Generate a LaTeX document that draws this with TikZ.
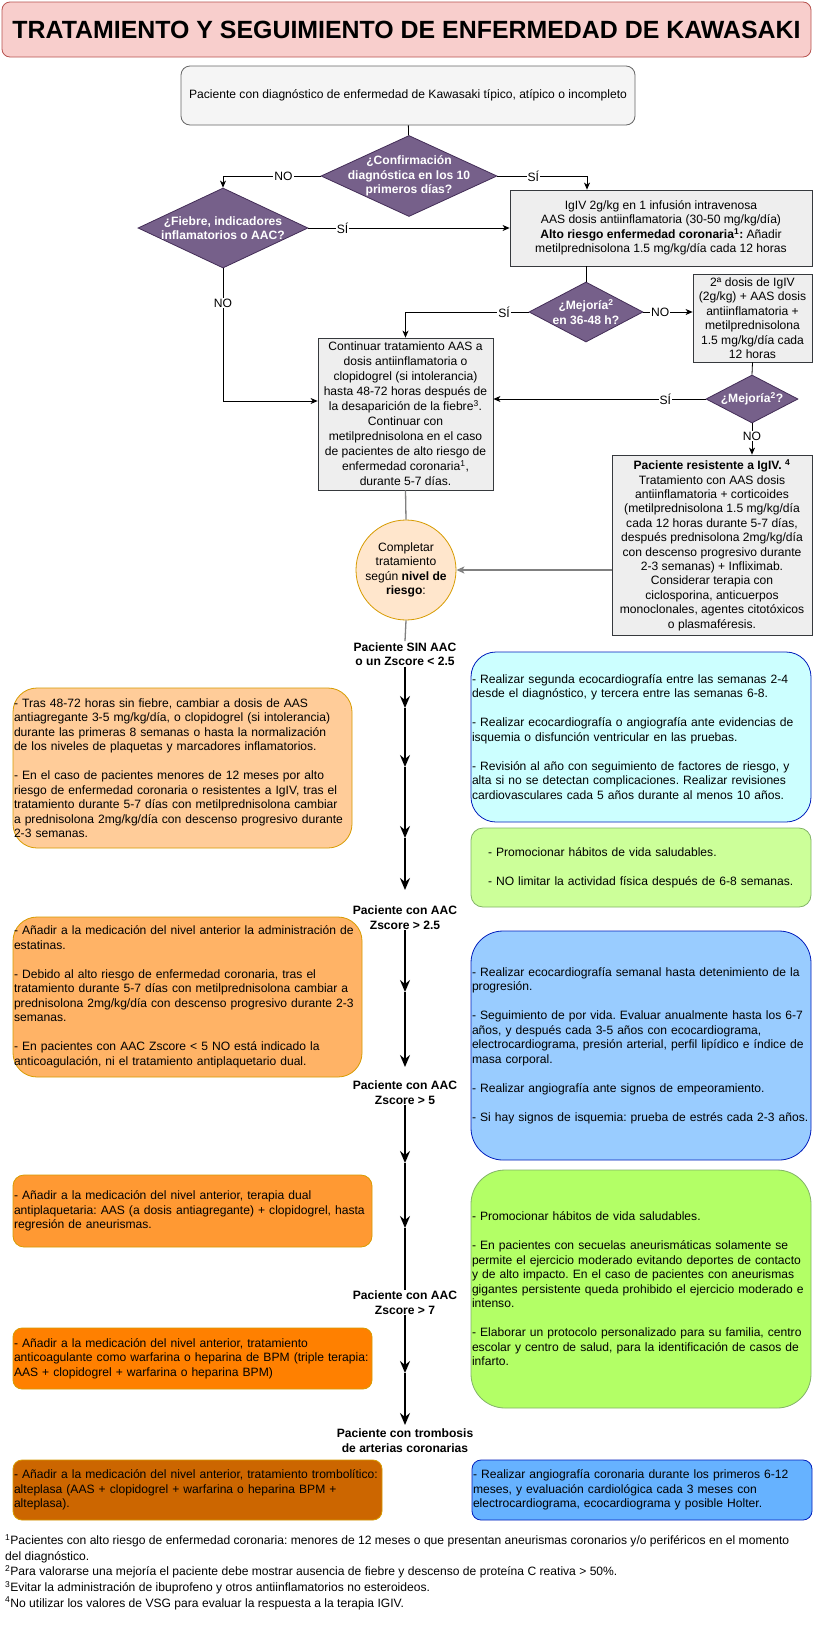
\documentclass[tikz,border=0pt]{standalone}
\usepackage{fontspec}
\setmainfont{Liberation Sans}
\usetikzlibrary{shapes.geometric}
\usetikzlibrary{arrows.meta}

\definecolor{tituloRojo}{HTML}{F8CECC}
\definecolor{tituloBorde}{HTML}{B85450}
\definecolor{grisFondo}{HTML}{F5F5F5}
\definecolor{grisBorde}{HTML}{666666}
\definecolor{cajaGris}{HTML}{EEEEEE}
\definecolor{cajaBorde}{HTML}{36393D}
\definecolor{morado}{HTML}{76608A}
\definecolor{moradoBorde}{HTML}{432D57}
\definecolor{crema}{HTML}{FFE6CC}
\definecolor{ocre}{HTML}{D79B00}
\definecolor{naranja1}{HTML}{FFCC99}
\definecolor{naranja2}{HTML}{FFB366}
\definecolor{naranja3}{HTML}{FF9933}
\definecolor{naranja4}{HTML}{FF8000}
\definecolor{naranja5}{HTML}{CC6600}
\definecolor{azul1}{HTML}{CCFFFF}
\definecolor{azul2}{HTML}{99CCFF}
\definecolor{azul3}{HTML}{66B2FF}
\definecolor{azulBorde}{HTML}{001DBC}
\definecolor{verde1}{HTML}{CCFF99}
\definecolor{verde2}{HTML}{B3FF66}
\definecolor{verdeBorde}{HTML}{82B366}

\frenchspacing

\begin{document}
\begin{tikzpicture}[x=1pt, y=-1pt]

  \tikzstyle{texto}=[font=\fontsize{12.1}{14.5}\selectfont]
  \tikzstyle{titulo}=[rectangle, rounded corners=8pt, draw=tituloBorde, fill=tituloRojo, line width=0.8pt, minimum width=809pt, minimum height=55pt, font=\fontsize{24.9}{28}\selectfont\bfseries]
  \tikzstyle{inicio}=[rectangle, rounded corners=9pt, draw=grisBorde, fill=grisFondo, line width=0.8pt, texto]
  \tikzstyle{proceso}=[rectangle, draw=cajaBorde, fill=cajaGris, line width=0.8pt, inner sep=1pt, align=center, texto]
  \tikzstyle{decision}=[diamond, draw=moradoBorde, fill=morado, line width=0.8pt, inner sep=0pt]
  \tikzstyle{pregunta}=[text=white, align=center, font=\fontsize{12.1}{14.5}\selectfont\bfseries]
  \tikzstyle{nivel}=[circle, draw=ocre, fill=crema, line width=0.8pt, minimum size=100pt, inner sep=0pt]
  \tikzstyle{nota}=[rectangle, line width=0.8pt, inner xsep=1pt, inner ysep=0pt, align=left, texto]
  \tikzstyle{grado}=[align=center, inner sep=1pt, font=\fontsize{12.1}{14.5}\selectfont\bfseries]
  \tikzstyle{connect}=[-{Stealth[length=7pt, width=6pt, inset=2pt]}, line width=0.8pt]
  \tikzstyle{linea}=[line width=0.8pt]
  \tikzstyle{gris}=[line width=1.3pt, draw=gray]
  \tikzstyle{eje}=[-{Stealth[length=12pt, width=10pt, inset=4pt]}, line width=2pt]
  \tikzstyle{etiqueta}=[fill=white, inner sep=1pt, texto]

  \fill[white] (0,0) rectangle (814,1628);
  \useasboundingbox (0,0) rectangle (814,1628);

  \node[titulo] (cabecera) at (406.5,29.5) {TRATAMIENTO Y SEGUIMIENTO DE ENFERMEDAD DE KAWASAKI};
  \node[inicio, minimum width=454pt, minimum height=59pt] (diagnostico) at (408,95.5) {Paciente con diagnóstico de enfermedad de Kawasaki típico, atípico o incompleto};

  \node[decision, minimum width=176pt, minimum height=81pt, label={[pregunta]center:{¿Confirmación\\diagnóstica en los 10\\primeros días?}}] (confirmacion) at (409,176) {};
  \node[decision, minimum width=170pt, minimum height=80pt, label={[pregunta]center:{¿Fiebre, indicadores\\inflamatorios o AAC?}}] (fiebre) at (223,228) {};
  \node[proceso, minimum width=302pt, minimum height=76pt] (igiv) at (661,228) {IgIV 2g/kg en 1 infusión intravenosa\\AAS dosis antiinflamatoria (30-50 mg/kg/día)\\\textbf{Alto riesgo enfermedad coronaria\textsuperscript{1}:} Añadir\\metilprednisolona 1.5 mg/kg/día cada 12 horas};
  \node[decision, minimum width=114pt, minimum height=60pt, label={[pregunta]center:{¿Mejoría\textsuperscript{2}\\en 36-48 h?}}] (mejoria) at (586,312) {};
  \node[proceso, minimum width=119pt, minimum height=88pt] (segunda) at (752.5,318) {2ª dosis de IgIV\\(2g/kg) + AAS dosis\\antiinflamatoria +\\metilprednisolona\\1.5 mg/kg/día cada\\12 horas};
  \node[decision, minimum width=92pt, minimum height=48pt, label={[pregunta]center:{¿Mejoría\textsuperscript{2}?}}] (mejoria2) at (752,399) {};
  \node[proceso, minimum width=175pt, minimum height=152pt, inner ysep=0pt, font=\fontsize{12.1}{15}\selectfont] (continuar) at (405.5,414) {Continuar tratamiento AAS a\\dosis antiinflamatoria o\\clopidogrel (si intolerancia)\\hasta 48-72 horas después de\\la desaparición de la fiebre\textsuperscript{3}.\\Continuar con\\metilprednisolona en el caso\\de pacientes de alto riesgo de\\enfermedad coronaria\textsuperscript{1},\\durante 5-7 días.};
  \node[proceso, minimum width=200pt, minimum height=180pt, inner ysep=0pt, font=\fontsize{12.1}{14.4}\selectfont] (resistente) at (712,545) {\textbf{Paciente resistente a IgIV. \textsuperscript{4}}\\Tratamiento con AAS dosis\\antiinflamatoria + corticoides\\(metilprednisolona 1.5 mg/kg/día\\cada 12 horas durante 5-7 días,\\después prednisolona 2mg/kg/día\\con descenso progresivo durante\\2-3 semanas) + Infliximab.\\Considerar terapia con\\ciclosporina, anticuerpos\\monoclonales, agentes citotóxicos\\o plasmaféresis.};
  \node[nivel, label={[align=center, texto]center:{Completar\\tratamiento\\según \textbf{nivel de}\\\textbf{riesgo}:}}] (completar) at (406,570) {};

  \node[grado] (sinAAC) at (405,654) {Paciente SIN AAC\\o un Zscore < 2.5};
  \node[grado] (aac25) at (405,917.5) {Paciente con AAC\\Zscore > 2.5};
  \node[grado] (aac5) at (405,1092.5) {Paciente con AAC\\Zscore > 5};
  \node[grado] (aac7) at (405,1302.5) {Paciente con AAC\\Zscore > 7};
  \node[grado] (trombosis) at (405,1440.5) {Paciente con trombosis\\de arterias coronarias};

  \node[nota, fill=naranja1, draw=ocre, rounded corners=24pt, text width=337pt, minimum height=160pt] (tratSin) at (182.5,768) {- Tras 48-72 horas sin fiebre, cambiar a dosis de AAS\\antiagregante 3-5 mg/kg/día, o clopidogrel (si intolerancia)\\durante las primeras 8 semanas o hasta la normalización\\de los niveles de plaquetas y marcadores inflamatorios.\\[14.5pt]- En el caso de pacientes menores de 12 meses por alto\\riesgo de enfermedad coronaria o resistentes a IgIV, tras el\\tratamiento durante 5-7 días con metilprednisolona cambiar\\a prednisolona 2mg/kg/día con descenso progresivo durante\\2-3 semanas.};
  \node[nota, fill=azul1, draw=azulBorde, rounded corners=25pt, text width=338pt, minimum height=170pt] (segSin) at (641,737) {- Realizar segunda ecocardiografía entre las semanas 2-4\\desde el diagnóstico, y tercera entre las semanas 6-8.\\[14.5pt]- Realizar ecocardiografía o angiografía ante evidencias de\\isquemia o disfunción ventricular en las pruebas.\\[14.5pt]- Revisión al año con seguimiento de factores de riesgo, y\\alta si no se detectan complicaciones. Realizar revisiones\\cardiovasculares cada 5 años durante al menos 10 años.};
  \node[nota, fill=verde1, draw=verdeBorde, rounded corners=12pt, inner xsep=17pt, text width=306pt, minimum height=79pt] (habitosSin) at (641,867.5) {- Promocionar hábitos de vida saludables.\\[14.5pt]- NO limitar la actividad física después de 6-8 semanas.};

  \node[nota, fill=naranja2, draw=ocre, rounded corners=24pt, text width=347pt, minimum height=160pt] (trat25) at (187.5,997) {- Añadir a la medicación del nivel anterior la administración de\\estatinas.\\[14.5pt]- Debido al alto riesgo de enfermedad coronaria, tras el\\tratamiento durante 5-7 días con metilprednisolona cambiar a\\prednisolona 2mg/kg/día con descenso progresivo durante 2-3\\semanas.\\[14.5pt]- En pacientes con AAC Zscore < 5 NO está indicado la\\anticoagulación, ni el tratamiento antiplaquetario dual.};
  \node[nota, fill=azul2, draw=azulBorde, rounded corners=32pt, text width=338pt, minimum height=229pt] (seg25) at (641,1045.5) {- Realizar ecocardiografía semanal hasta detenimiento de la\\progresión.\\[14.5pt]- Seguimiento de por vida. Evaluar anualmente hasta los 6-7\\años, y después cada 3-5 años con ecocardiograma,\\electrocardiograma, presión arterial, perfil lipídico e índice de\\masa corporal.\\[14.5pt]- Realizar angiografía ante signos de empeoramiento.\\[14.5pt]- Si hay signos de isquemia: prueba de estrés cada 2-3 años.};

  \node[nota, fill=naranja3, draw=ocre, rounded corners=11pt, text width=357pt, minimum height=72pt] (trat5) at (192.5,1211) {- Añadir a la medicación del nivel anterior, terapia dual\\antiplaquetaria: AAS (a dosis antiagregante) + clopidogrel, hasta\\regresión de aneurismas.};
  \node[nota, fill=verde2, draw=verdeBorde, rounded corners=34pt, text width=338pt, minimum height=238pt] (habitos5) at (641,1289) {- Promocionar hábitos de vida saludables.\\[14.5pt]- En pacientes con secuelas aneurismáticas solamente se\\permite el ejercicio moderado evitando deportes de contacto\\y de alto impacto. En el caso de pacientes con aneurismas\\gigantes persistente queda prohibido el ejercicio moderado e\\intenso.\\[14.5pt]- Elaborar un protocolo personalizado para su familia, centro\\escolar y centro de salud, para la identificación de casos de\\infarto.};
  \node[nota, fill=naranja4, draw=ocre, rounded corners=9pt, text width=357pt, minimum height=61pt] (trat7) at (192.5,1358.5) {- Añadir a la medicación del nivel anterior, tratamiento\\anticoagulante como warfarina o heparina de BPM (triple terapia:\\AAS + clopidogrel + warfarina o heparina BPM)};

  \node[nota, fill=naranja5, draw=ocre, rounded corners=9pt, text width=367pt, minimum height=60pt] (tratTromb) at (197.5,1490) {- Añadir a la medicación del nivel anterior, tratamiento trombolítico:\\alteplasa (AAS + clopidogrel + warfarina o heparina BPM +\\alteplasa).};
  \node[nota, fill=azul3, draw=azulBorde, rounded corners=9pt, text width=338pt, minimum height=60pt] (segTromb) at (642,1490) {- Realizar angiografía coronaria durante los primeros 6-12\\meses, y evaluación cardiológica cada 3 meses con\\electrocardiograma, ecocardiograma y posible Holter.};

  \node[anchor=north west, align=left, inner sep=0pt, font=\fontsize{12.1}{15.7}\selectfont] (notas) at (5,1534) {\textsuperscript{1}Pacientes con alto riesgo de enfermedad coronaria: menores de 12 meses o que presentan aneurismas coronarios y/o periféricos en el momento\\del diagnóstico.\\\textsuperscript{2}Para valorarse una mejoría el paciente debe mostrar ausencia de fiebre y descenso de proteína C reativa > 50\%.\\\textsuperscript{3}Evitar la administración de ibuprofeno y otros antiinflamatorios no esteroideos.\\\textsuperscript{4}No utilizar los valores de VSG para evaluar la respuesta a la terapia IGIV.};

  \path (diagnostico) edge [linea] (confirmacion);
  \draw[connect] (confirmacion.west) -| node[etiqueta, pos=0.19] {NO} (fiebre.north);
  \draw[connect] (confirmacion.east) -| node[etiqueta, pos=0.2] {SÍ} ([xshift=-74pt]igiv.north);
  \path (fiebre.east) edge [connect] node[etiqueta, pos=0.17] {SÍ} (fiebre.east -| igiv.west);
  \draw[connect] (fiebre.south) |- node[etiqueta, pos=0.13] {NO} ([yshift=13pt]continuar.west);
  \path (igiv.south -| mejoria.north) edge [linea] (mejoria.north);
  \draw[connect] (mejoria.west) -| node[etiqueta, pos=0.1] {SÍ} (continuar.north);
  \path (mejoria.east) edge [connect] node[etiqueta, pos=0.34] {NO} (mejoria.east -| segunda.west);
  \path (segunda.south) edge [linea] (mejoria2.north);
  \path (mejoria2.west) edge [connect] node[etiqueta, pos=0.19] {SÍ} (mejoria2.west -| continuar.east);
  \path (mejoria2.south) edge [connect] node[etiqueta, pos=0.4] {NO} (mejoria2.south |- resistente.north);
  \path (continuar.south) edge [gris] (completar.north);
  \path (resistente.west |- completar.east) edge [gris, -{Stealth[length=8pt, width=7pt, inset=2pt]}] (completar.east);
  \path (completar.south) edge [gris] (sinAAC.north);

  \coordinate (e1) at (405,708);
  \coordinate (e2) at (405,767);
  \coordinate (e3) at (405,838);
  \coordinate (e4) at (405,890);
  \coordinate (e5) at (405,992);
  \coordinate (e6) at (405,1067);
  \coordinate (e7) at (405,1163);
  \coordinate (e8) at (405,1228);
  \coordinate (e9) at (405,1373);
  \coordinate (e10) at (405,1425);

  \path (sinAAC) edge [eje] (e1)
        (e1) edge [eje] (e2)
        (e2) edge [eje] (e3)
        (e3) edge [eje] (e4)
        (aac25) edge [eje] (e5)
        (e5) edge [eje] (e6)
        (aac5) edge [eje] (e7)
        (e7) edge [eje] (e8)
        (e8) edge [line width=2pt] (aac7)
        (aac7) edge [eje] (e9)
        (e9) edge [eje] (e10);

\end{tikzpicture}
\end{document}
